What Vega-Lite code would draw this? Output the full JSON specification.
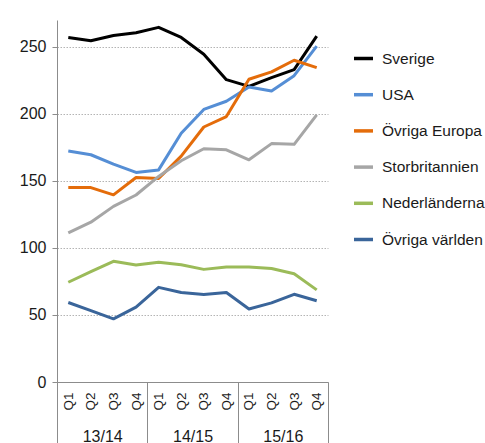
{
  "$schema": "https://vega.github.io/schema/vega-lite/v6.json",
  "width": 271,
  "height": 362,
  "autosize": "none",
  "padding": {"left": 57, "top": 20, "right": 157, "bottom": 61},
  "background": "white",
  "datasets": {
    "series": [
      {"period": "13/14 Q1", "land": "Sverige", "value": 257},
      {"period": "13/14 Q2", "land": "Sverige", "value": 254.5},
      {"period": "13/14 Q3", "land": "Sverige", "value": 258.5},
      {"period": "13/14 Q4", "land": "Sverige", "value": 260.5},
      {"period": "14/15 Q1", "land": "Sverige", "value": 264.5},
      {"period": "14/15 Q2", "land": "Sverige", "value": 257},
      {"period": "14/15 Q3", "land": "Sverige", "value": 244.5},
      {"period": "14/15 Q4", "land": "Sverige", "value": 225.5},
      {"period": "15/16 Q1", "land": "Sverige", "value": 220.5},
      {"period": "15/16 Q2", "land": "Sverige", "value": 227},
      {"period": "15/16 Q3", "land": "Sverige", "value": 233},
      {"period": "15/16 Q4", "land": "Sverige", "value": 258},
      {"period": "13/14 Q1", "land": "USA", "value": 172.3},
      {"period": "13/14 Q2", "land": "USA", "value": 169.5},
      {"period": "13/14 Q3", "land": "USA", "value": 162.5},
      {"period": "13/14 Q4", "land": "USA", "value": 156.3},
      {"period": "14/15 Q1", "land": "USA", "value": 158.2},
      {"period": "14/15 Q2", "land": "USA", "value": 185.5},
      {"period": "14/15 Q3", "land": "USA", "value": 203.3},
      {"period": "14/15 Q4", "land": "USA", "value": 209.4},
      {"period": "15/16 Q1", "land": "USA", "value": 220},
      {"period": "15/16 Q2", "land": "USA", "value": 217},
      {"period": "15/16 Q3", "land": "USA", "value": 228.5},
      {"period": "15/16 Q4", "land": "USA", "value": 250.5},
      {"period": "13/14 Q1", "land": "Övriga Europa", "value": 145},
      {"period": "13/14 Q2", "land": "Övriga Europa", "value": 145},
      {"period": "13/14 Q3", "land": "Övriga Europa", "value": 139.6},
      {"period": "13/14 Q4", "land": "Övriga Europa", "value": 152.5},
      {"period": "14/15 Q1", "land": "Övriga Europa", "value": 151.8},
      {"period": "14/15 Q2", "land": "Övriga Europa", "value": 168.5},
      {"period": "14/15 Q3", "land": "Övriga Europa", "value": 190.2},
      {"period": "14/15 Q4", "land": "Övriga Europa", "value": 198},
      {"period": "15/16 Q1", "land": "Övriga Europa", "value": 225.8},
      {"period": "15/16 Q2", "land": "Övriga Europa", "value": 231.3},
      {"period": "15/16 Q3", "land": "Övriga Europa", "value": 240},
      {"period": "15/16 Q4", "land": "Övriga Europa", "value": 234.5},
      {"period": "13/14 Q1", "land": "Storbritannien", "value": 111.2},
      {"period": "13/14 Q2", "land": "Storbritannien", "value": 119.2},
      {"period": "13/14 Q3", "land": "Storbritannien", "value": 131},
      {"period": "13/14 Q4", "land": "Storbritannien", "value": 139.5},
      {"period": "14/15 Q1", "land": "Storbritannien", "value": 153.3},
      {"period": "14/15 Q2", "land": "Storbritannien", "value": 165},
      {"period": "14/15 Q3", "land": "Storbritannien", "value": 174},
      {"period": "14/15 Q4", "land": "Storbritannien", "value": 173.2},
      {"period": "15/16 Q1", "land": "Storbritannien", "value": 165.7},
      {"period": "15/16 Q2", "land": "Storbritannien", "value": 177.8},
      {"period": "15/16 Q3", "land": "Storbritannien", "value": 177.3},
      {"period": "15/16 Q4", "land": "Storbritannien", "value": 199.3},
      {"period": "13/14 Q1", "land": "Nederländerna", "value": 74.4},
      {"period": "13/14 Q2", "land": "Nederländerna", "value": 82.3},
      {"period": "13/14 Q3", "land": "Nederländerna", "value": 90},
      {"period": "13/14 Q4", "land": "Nederländerna", "value": 87.3},
      {"period": "14/15 Q1", "land": "Nederländerna", "value": 89.4},
      {"period": "14/15 Q2", "land": "Nederländerna", "value": 87.5},
      {"period": "14/15 Q3", "land": "Nederländerna", "value": 84},
      {"period": "14/15 Q4", "land": "Nederländerna", "value": 85.8},
      {"period": "15/16 Q1", "land": "Nederländerna", "value": 85.8},
      {"period": "15/16 Q2", "land": "Nederländerna", "value": 84.6},
      {"period": "15/16 Q3", "land": "Nederländerna", "value": 80.7},
      {"period": "15/16 Q4", "land": "Nederländerna", "value": 68.7},
      {"period": "13/14 Q1", "land": "Övriga världen", "value": 59.3},
      {"period": "13/14 Q2", "land": "Övriga världen", "value": 53.3},
      {"period": "13/14 Q3", "land": "Övriga världen", "value": 47.1},
      {"period": "13/14 Q4", "land": "Övriga världen", "value": 55.8},
      {"period": "14/15 Q1", "land": "Övriga världen", "value": 70.6},
      {"period": "14/15 Q2", "land": "Övriga världen", "value": 66.8},
      {"period": "14/15 Q3", "land": "Övriga världen", "value": 65.3},
      {"period": "14/15 Q4", "land": "Övriga världen", "value": 66.7},
      {"period": "15/16 Q1", "land": "Övriga världen", "value": 54.5},
      {"period": "15/16 Q2", "land": "Övriga världen", "value": 59},
      {"period": "15/16 Q3", "land": "Övriga världen", "value": 65.4},
      {"period": "15/16 Q4", "land": "Övriga världen", "value": 60.6}
    ],
    "years": [
      {"year": "13/14"},
      {"year": "14/15"},
      {"year": "15/16"}
    ]
  },
  "config": {
    "view": {"stroke": null},
    "font": "Liberation Sans",
    "axis": {"labelFont": "Liberation Sans", "labelColor": "#1a1a1a", "domainColor": "#8c8c8c", "tickColor": "#8c8c8c"},
    "legend": {"labelFont": "Liberation Sans"}
  },
  "layer": [
    {
      "data": {"name": "series"},
      "mark": {"type": "line", "strokeWidth": 3, "strokeJoin": "round", "strokeCap": "butt"},
      "encoding": {
        "x": {
          "field": "period",
          "type": "ordinal",
          "scale": {"type": "point", "padding": 0.5},
          "axis": {
            "title": null,
            "orient": "bottom",
            "labelExpr": "slice(datum.value, 6)",
            "labelAngle": -90,
            "labelAlign": "right",
            "labelBaseline": "middle",
            "labelFontSize": 13.5,
            "labelPadding": 10,
            "ticks": false,
            "domain": true,
            "domainColor": "#8c8c8c",
            "domainWidth": 1,
            "grid": false
          }
        },
        "y": {
          "field": "value",
          "type": "quantitative",
          "scale": {"domain": [0, 270], "nice": false, "zero": true},
          "axis": {
            "title": null,
            "values": [0, 50, 100, 150, 200, 250],
            "labelFontSize": 16,
            "labelPadding": 6,
            "tickSize": 5,
            "grid": true,
            "gridColor": "#b4b4b4",
            "gridDash": [1.5, 1.5],
            "gridWidth": 1,
            "domainColor": "#8c8c8c"
          }
        },
        "color": {
          "field": "land",
          "type": "nominal",
          "scale": {
            "domain": ["Sverige", "USA", "Övriga Europa", "Storbritannien", "Nederländerna", "Övriga världen"],
            "range": ["#000000", "#558ed5", "#e46c0a", "#a6a6a6", "#9bbb59", "#3a659a"]
          },
          "legend": {
            "title": null,
            "orient": "none",
            "legendX": 295,
            "legendY": 27,
            "symbolType": "stroke",
            "symbolSize": 361,
            "symbolStrokeWidth": 3.5,
            "labelFontSize": 15.5,
            "labelColor": "#1a1a1a",
            "labelOffset": 7,
            "rowPadding": 16.2,
            "padding": 0
          }
        }
      }
    },
    {
      "data": {"name": "years"},
      "mark": {"type": "text", "opacity": 0},
      "encoding": {
        "x": {
          "field": "year",
          "type": "nominal",
          "scale": {"type": "band", "paddingInner": 0, "paddingOuter": 0},
          "axis": {
            "title": null,
            "orient": "bottom",
            "labelAngle": 0,
            "labelFontSize": 16,
            "labelBaseline": "top",
            "labelPadding": -16,
            "tickBand": "extent",
            "tickSize": 62,
            "tickColor": "#8c8c8c",
            "domain": false,
            "grid": false
          }
        },
        "text": {"value": ""}
      }
    }
  ],
  "resolve": {"scale": {"x": "independent"}}
}
